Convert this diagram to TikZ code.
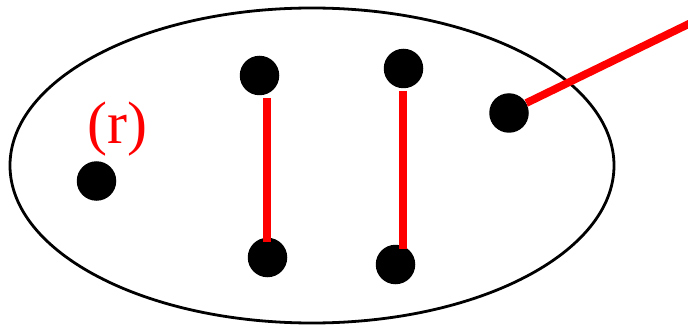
\documentclass[tikz,border=0pt]{standalone}
\usepackage{fontspec}
\setmainfont{Liberation Serif}
\begin{document}
\begin{tikzpicture}[x=1pt,y=-1pt,
  dot/.style={circle,fill=black,inner sep=0pt,minimum size=39.5pt},
  redline/.style={red,line width=7.8pt}]
\useasboundingbox (0,0) rectangle (688,326);
\draw[line width=2.8pt] (312,165.5) ellipse [x radius=302, y radius=157.5];
\node[dot] (a) at (96.5,181) {};
\node[dot] (b1) at (259.5,75.5) {};
\node[dot] (b2) at (267.5,257.5) {};
\node[dot] (c1) at (403.5,68.5) {};
\node[dot] (c2) at (395.5,264.5) {};
\node[dot] (d) at (509,113) {};
\node[red,anchor=base,font=\fontsize{60}{72}\selectfont,inner sep=0pt] (lab) at (117.5,143) {(r)};
\coordinate (b1e) at (267,98);
\coordinate (b2e) at (267,242);
\coordinate (c1e) at (403,91);
\coordinate (c2e) at (403,249);
\coordinate (dout) at (700,18.5);
\draw[redline] (b1e) -- (b2e);
\draw[redline] (c1e) -- (c2e);
\draw[redline] (d.30) -- (dout);
\end{tikzpicture}
\end{document}
